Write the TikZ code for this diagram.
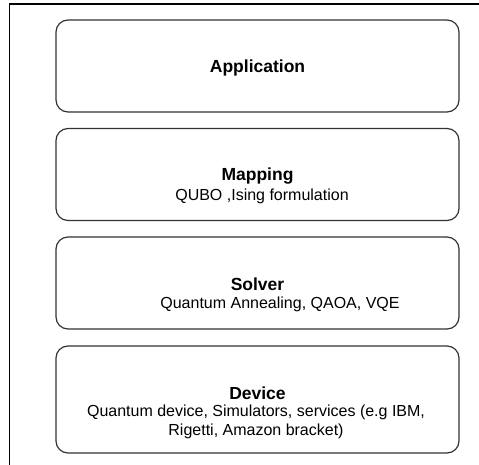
\documentclass[tikz,border=0pt]{standalone}
\usepackage{fontspec}
\setmainfont{Liberation Sans}
\tikzset{
  layer/.style={draw=black!80, line width=1.2pt, rounded corners=12pt,
    minimum width=403pt, inner sep=0pt},
  title/.style={font=\fontsize{17.5}{19}\selectfont\bfseries, inner sep=0pt},
  detail/.style={font=\fontsize{16}{18.5}\selectfont, inner sep=0pt, align=center},
  frame/.style={line width=1.3pt, black}
}
\begin{document}
\begin{tikzpicture}[x=1pt, y=-1pt]
  \useasboundingbox (0,0) rectangle (479,465);
  % page frame: top and left edges
  \coordinate (ftl) at (9.5,4);
  \coordinate (ftr) at (479,4);
  \coordinate (fbl) at (9.5,465);
  \draw[frame] (ftr) -- (ftl) -- (fbl);

  % stack of layers
  \node[layer, minimum height=92pt] (app) at (257.5,66) {};
  \node[layer, minimum height=92pt] (map) at (257.5,174.5) {};
  \node[layer, minimum height=92pt] (sol) at (257.5,283) {};
  \node[layer, minimum height=107pt] (dev) at (257.5,399.5) {};

  \node[title] (appT) at (257.5,68) {Application};

  \node[title] (mapT) at (257.5,176) {Mapping};
  \node[detail] (mapD) at (262,196) {QUBO ,Ising formulation};

  \node[title] (solT) at (257.5,284) {Solver};
  \node[detail] (solD) at (280,304) {Quantum Annealing, QAOA, VQE};

  \node[title] (devT) at (257.5,393) {Device};
  \node[detail] (devD) at (256,422) {Quantum device, Simulators, services (e.g IBM,\\Rigetti, Amazon bracket)};
\end{tikzpicture}
\end{document}
